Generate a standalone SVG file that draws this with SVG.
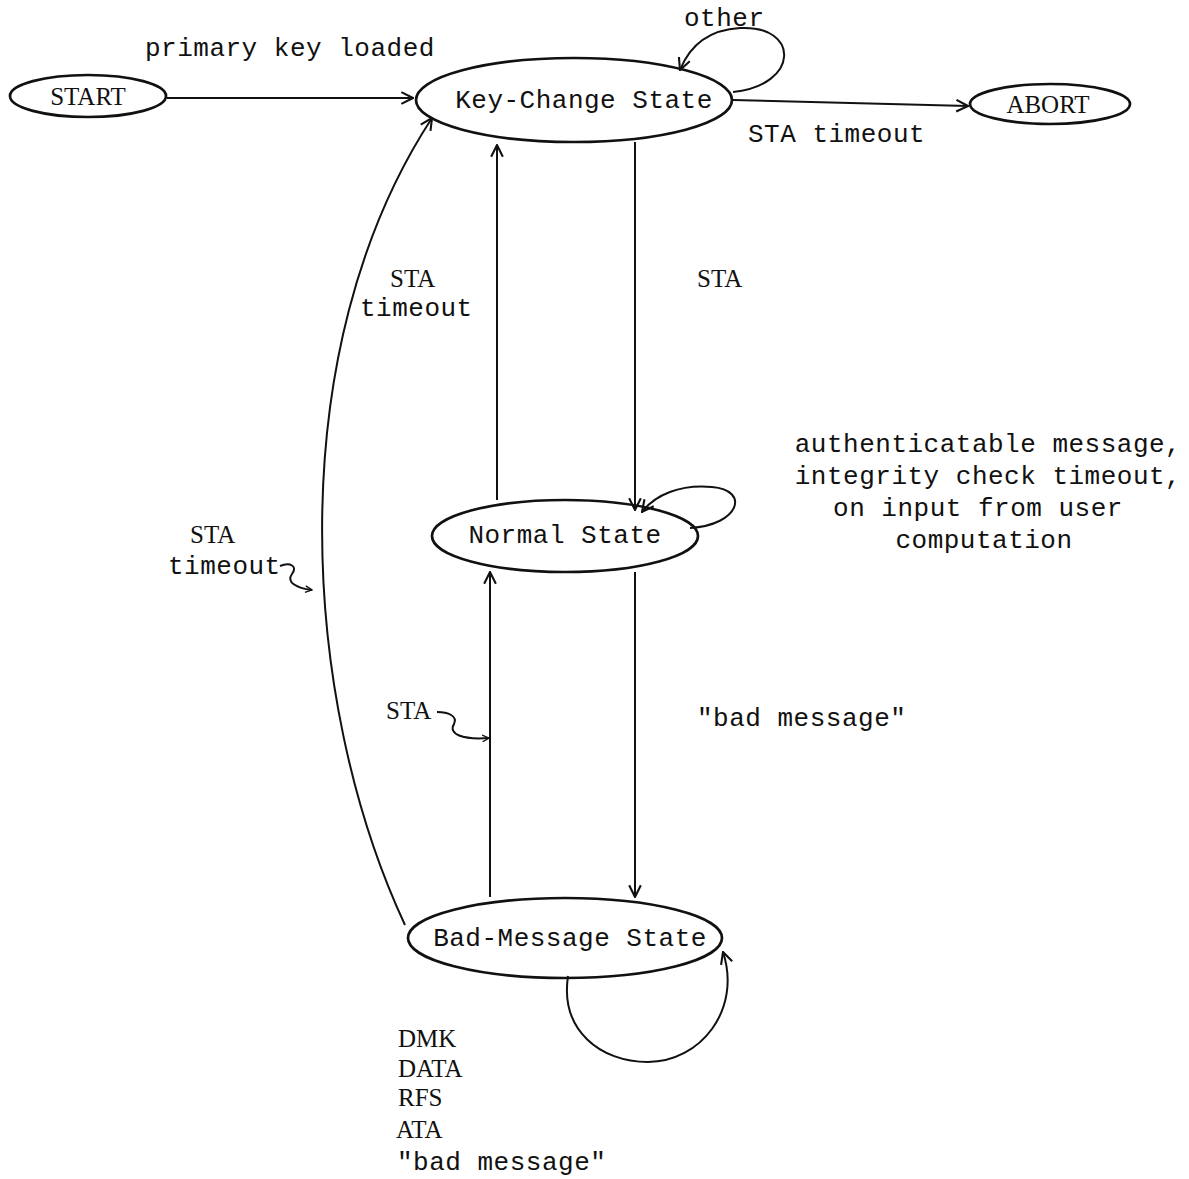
<svg xmlns="http://www.w3.org/2000/svg" width="1189" height="1179" viewBox="0 0 1189 1179">
<style>
.n{fill:none;stroke:#111;stroke-width:2.7}
.c{fill:none;stroke:#111;stroke-width:2}
.m{font-family:"Liberation Mono","DejaVu Sans Mono",monospace;font-size:26px;fill:#111;letter-spacing:0.5px}
.s{font-family:"Liberation Serif","DejaVu Serif",serif;font-size:25px;fill:#111}
</style>
<defs>
<marker id="a" viewBox="0 0 12 12" refX="11" refY="6" markerWidth="14" markerHeight="14" markerUnits="userSpaceOnUse" orient="auto">
<path d="M1,1 L11,6 L1,11" fill="none" stroke="#111" stroke-width="1.8"/>
</marker>
<marker id="b" viewBox="0 0 12 12" refX="11" refY="6" markerWidth="8" markerHeight="8" markerUnits="userSpaceOnUse" orient="auto">
<path d="M1,1 L11,6 L1,11" fill="none" stroke="#111" stroke-width="2"/>
</marker>
</defs>
<rect width="1189" height="1179" fill="#fff"/>
<g id="connectors">
<path class="c" d="M167,98 L413,98" marker-end="url(#a)"/>
<path class="c" d="M733,100 L968,106" marker-end="url(#a)"/>
<path class="c" d="M733,92 C800,85 800,25 740,28 C705,30 688,50 680,70" marker-end="url(#a)"/>
<path class="c" d="M635,142 L635,510" marker-end="url(#a)"/>
<path class="c" d="M497,500 L497,145" marker-end="url(#a)"/>
<path class="c" d="M405,925 C300,700 280,350 432,118" marker-end="url(#a)"/>
<path class="c" d="M635,572 L635,897" marker-end="url(#a)"/>
<path class="c" d="M490,897 L490,572" marker-end="url(#a)"/>
<path class="c" d="M690,528 C740,525 750,490 712,487 C680,484 655,495 642,512" marker-end="url(#a)"/>
<path class="c" d="M568,976 C560,1030 600,1062 648,1062 C700,1062 742,1010 723,952" marker-end="url(#a)"/>
<path class="c" d="M280,566 C290,562 298,566 292,574 C286,582 296,588 312,590" marker-end="url(#b)"/>
<path class="c" d="M437,712 C448,712 458,716 454,724 C448,734 462,740 489,738" marker-end="url(#b)"/>
</g>
<g id="start"><ellipse class="n" cx="88" cy="96" rx="78" ry="21"/><text class="s" x="88" y="105" text-anchor="middle">START</text></g>
<g id="keychange"><ellipse class="n" cx="574" cy="100" rx="158" ry="42"/><text class="m" x="584" y="108" text-anchor="middle">Key-Change State</text></g>
<g id="abort"><ellipse class="n" cx="1050" cy="104" rx="80" ry="20"/><text class="s" x="1048" y="113" text-anchor="middle">ABORT</text></g>
<g id="normal"><ellipse class="n" cx="565" cy="536" rx="133" ry="36"/><text class="m" x="565" y="543" text-anchor="middle">Normal State</text></g>
<g id="badmessage"><ellipse class="n" cx="565" cy="938" rx="157" ry="40"/><text class="m" x="570" y="946" text-anchor="middle">Bad-Message State</text></g>
<g id="labels">
<text class="m" x="684" y="26">other</text>
<text class="m" x="145" y="56">primary key loaded</text>
<text class="m" x="748" y="142">STA timeout</text>
<text class="s" x="390" y="287">STA</text>
<text class="m" x="360" y="316">timeout</text>
<text class="s" x="697" y="287">STA</text>
<text class="m" x="988" y="452" text-anchor="middle">authenticatable message,</text>
<text class="m" x="988" y="484" text-anchor="middle">integrity check timeout,</text>
<text class="m" x="978" y="516" text-anchor="middle" letter-spacing="2">on input from user</text>
<text class="m" x="984" y="548" text-anchor="middle" letter-spacing="2.5">computation</text>
<text class="s" x="190" y="543">STA</text>
<text class="m" x="168" y="574">timeout</text>
<text class="s" x="386" y="719">STA</text>
<text class="m" x="697" y="726">"bad message"</text>
<text class="s" x="398" y="1047">DMK</text>
<text class="s" x="398" y="1077">DATA</text>
<text class="s" x="398" y="1106">RFS</text>
<text class="s" x="396" y="1138">ATA</text>
<text class="m" x="397" y="1170">"bad message"</text>
</g>
</svg>
